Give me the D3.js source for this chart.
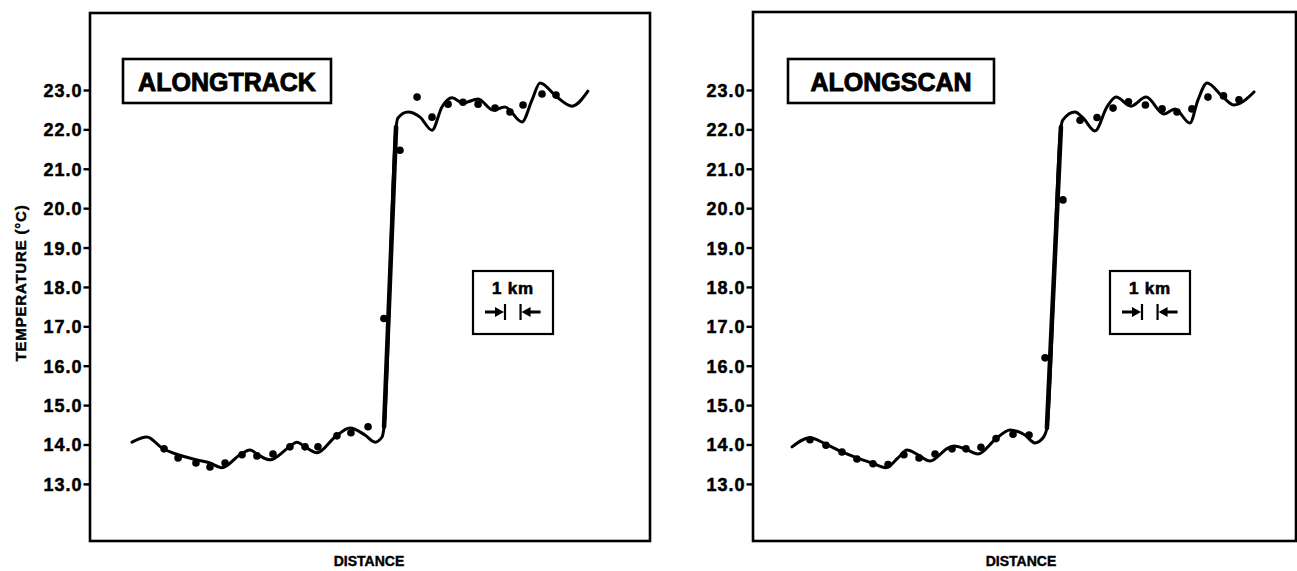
<!DOCTYPE html>
<html><head><meta charset="utf-8">
<script src="https://cdn.jsdelivr.net/npm/d3@7"></script>
<style>
body{margin:0;background:#fff}
svg{display:block}
text{font-family:"Liberation Sans",Arial,Helvetica,sans-serif;font-weight:bold;fill:#000}
</style>
</head><body>
<svg id="c" width="1297" height="571"></svg>
<script>
// ---------- data ----------
const yTicks = [13, 14, 15, 16, 17, 18, 19, 20, 21, 22, 23];
const yLabel = "TEMPERATURE (°C)";
const xLabel = "DISTANCE";
const scaleLabel = "1 km";

// ALONGTRACK (distance in km, temperature in °C)
const trackCurveKm = [2.70,3.66,4.63,5.66,6.88,7.71,8.48,9.64,10.28,10.80,11.57,12.72,13.30,13.82,14.59,15.75,16.71,17.67,18.32,18.77,18.90,19.67,19.79,20.44,21.21,21.98,22.62,23.27,23.97,24.94,25.90,26.67,27.76,28.41,28.92,30.01,30.98,32.00];
const trackCurveT  = [14.06,14.19,13.91,13.74,13.61,13.53,13.41,13.74,13.86,13.74,13.61,13.91,14.06,13.94,13.79,14.19,14.42,14.24,14.06,14.19,14.45,22.06,22.29,22.44,22.31,21.98,22.57,22.80,22.67,22.77,22.49,22.57,22.19,22.75,23.18,22.82,22.59,22.97];
const trackDotKm = [4.76,5.66,6.81,7.71,8.68,9.77,10.73,11.76,12.85,13.82,14.65,15.87,16.77,17.87,18.89,19.92,21.02,21.98,23.01,23.97,24.94,26.03,26.99,27.83,29.05,29.95];
const trackDotT  = [13.89,13.66,13.53,13.43,13.53,13.74,13.71,13.76,13.94,13.94,13.94,14.22,14.30,14.45,17.20,21.47,22.82,22.31,22.64,22.69,22.64,22.54,22.44,22.62,22.90,22.87];
const trackJump = [18.90, 19.67];

// ALONGSCAN
const scanCurveKm = [2.51,3.66,4.63,5.72,6.68,7.65,8.55,9.32,9.90,10.60,11.38,12.53,12.92,13.62,14.46,15.55,16.52,17.48,18.12,18.64,18.89,19.79,19.92,20.69,21.21,21.98,22.75,23.33,24.29,25.26,26.41,27.12,28.08,28.60,29.18,30.21,30.91,32.20];
const scanCurveT  = [13.94,14.17,14.02,13.81,13.66,13.53,13.41,13.66,13.86,13.74,13.58,13.91,13.96,13.89,13.76,14.12,14.37,14.24,14.04,14.17,14.42,22.06,22.24,22.44,22.29,21.96,22.57,22.82,22.59,22.82,22.39,22.52,22.16,22.75,23.18,22.82,22.62,22.95];
const scanDotKm = [3.66,4.69,5.72,6.68,7.71,8.68,9.70,10.67,11.70,12.79,13.69,14.65,15.62,16.71,17.74,18.77,19.92,21.02,22.11,23.14,24.13,25.22,26.29,27.25,28.21,29.24,30.24,31.23];
const scanDotT  = [14.12,13.98,13.81,13.63,13.51,13.49,13.74,13.66,13.76,13.89,13.89,13.93,14.15,14.26,14.24,16.20,20.21,22.23,22.30,22.54,22.70,22.62,22.52,22.44,22.52,22.82,22.85,22.75];
const scanJump = [18.89, 19.79];

// ---------- layout ----------
const svg = d3.select("#c");
const PXKM = 15.56;
const panels = [
  {title:"ALONGTRACK", x0:90, x1:650, top:13, bottom:541, ckm:trackCurveKm, ct:trackCurveT, dkm:trackDotKm, dt:trackDotT, jump:trackJump,
   tbox:[123,59,331,103], kbox:[473,271,553,334], kbar:26.67, ylab:true, xlabX:369},
  {title:"ALONGSCAN", x0:753, x1:1296, top:12, bottom:541, ckm:scanCurveKm, ct:scanCurveT, dkm:scanDotKm, dt:scanDotT, jump:scanJump,
   tbox:[788,59,994,103], kbox:[1110,271,1190,334], kbar:25.0, ylab:false, xlabX:1021}
];

panels.forEach(p => {
  const g = svg.append("g");
  const x = d3.scaleLinear().domain([0, (p.x1 - p.x0) / PXKM]).range([p.x0, p.x1]);
  const y = d3.scaleLinear().domain([11.55, 24.98]).range([541, 12]);

  // frame
  g.append("rect").attr("x", p.x0).attr("y", p.top).attr("width", p.x1 - p.x0).attr("height", p.bottom - p.top)
    .attr("fill", "none").attr("stroke", "#000").attr("stroke-width", 2.6);

  // y axis
  const ax = g.append("g").attr("transform", `translate(${p.x0 - 0.5},0)`)
    .call(d3.axisLeft(y).tickValues(yTicks).tickFormat(d3.format(".1f")).tickSize(6).tickPadding(1));
  ax.select(".domain").remove();
  ax.selectAll(".tick line").attr("stroke", "#000").attr("stroke-width", 2.4);
  ax.selectAll(".tick text").attr("font-size", 18).attr("font-family", '"Liberation Sans",Arial,sans-serif')
    .attr("font-weight", "bold").style("letter-spacing", "1px").attr("dy", "0.36em")
    .attr("stroke", "#000").attr("stroke-width", 0.5);

  // curve
  const pts = p.ckm.map((k, i) => [k, p.ct[i]]);
  const line = d3.line().x(d => x(d[0])).y(d => y(d[1])).curve(d3.curveMonotoneX);
  g.append("path").attr("d", line(pts)).attr("fill", "none").attr("stroke", "#000")
    .attr("stroke-width", 3).attr("stroke-linejoin", "round").attr("stroke-linecap", "round");
  const jp = pts.filter(d => d[0] >= p.jump[0] && d[0] <= p.jump[1]);
  g.append("path").attr("d", d3.line().x(d => x(d[0])).y(d => y(d[1]))(jp)).attr("fill", "none")
    .attr("stroke", "#000").attr("stroke-width", 4.6).attr("stroke-linecap", "round");

  // dots
  g.selectAll("circle.d").data(p.dkm.map((k, i) => [k, p.dt[i]])).join("circle")
    .attr("cx", d => x(d[0])).attr("cy", d => y(d[1])).attr("r", 3.8).attr("fill", "#000");

  // title box
  const [bx0, by0, bx1, by1] = p.tbox;
  g.append("rect").attr("x", bx0).attr("y", by0).attr("width", bx1 - bx0).attr("height", by1 - by0)
    .attr("fill", "#fff").attr("stroke", "#000").attr("stroke-width", 2.6);
  g.append("text").attr("x", (bx0 + bx1) / 2).attr("y", by0 + 32).attr("text-anchor", "middle")
    .attr("font-size", 25).attr("stroke", "#000").attr("stroke-width", 0.9).text(p.title);

  // 1 km scale box
  const [kx0, ky0, kx1, ky1] = p.kbox;
  g.append("rect").attr("x", kx0).attr("y", ky0).attr("width", kx1 - kx0).attr("height", ky1 - ky0)
    .attr("fill", "#fff").attr("stroke", "#000").attr("stroke-width", 2.2);
  const cx = (kx0 + kx1) / 2;
  g.append("text").attr("x", cx).attr("y", ky0 + 23).attr("text-anchor", "middle")
    .attr("font-size", 17).style("letter-spacing", "0.8px").attr("stroke", "#000").attr("stroke-width", 0.6).text(scaleLabel);
  const b1 = x(p.kbar), b2 = x(p.kbar + 1), ay = ky0 + 41;
  [b1, b2].forEach(b => g.append("line").attr("x1", b).attr("x2", b).attr("y1", ay - 8).attr("y2", ay + 8)
    .attr("stroke", "#000").attr("stroke-width", 2.2));
  g.append("line").attr("x1", b1 - 20).attr("x2", b1 - 6).attr("y1", ay).attr("y2", ay).attr("stroke", "#000").attr("stroke-width", 3);
  g.append("path").attr("d", `M${b1 - 1},${ay} L${b1 - 10},${ay - 5} L${b1 - 10},${ay + 5} Z`).attr("fill", "#000");
  g.append("line").attr("x1", b2 + 6).attr("x2", b2 + 20).attr("y1", ay).attr("y2", ay).attr("stroke", "#000").attr("stroke-width", 3);
  g.append("path").attr("d", `M${b2 + 1},${ay} L${b2 + 10},${ay - 5} L${b2 + 10},${ay + 5} Z`).attr("fill", "#000");

  // axis labels
  g.append("text").attr("x", p.xlabX).attr("y", 566).attr("text-anchor", "middle").attr("font-size", 14)
    .attr("stroke", "#000").attr("stroke-width", 0.4).text(xLabel);
  if (p.ylab) {
    g.append("text").attr("transform", "translate(26,283) rotate(-90)").attr("text-anchor", "middle")
      .attr("font-size", 15).style("letter-spacing", "0.8px").attr("stroke", "#000").attr("stroke-width", 0.4).text(yLabel);
  }
});
</script>
</body></html>
